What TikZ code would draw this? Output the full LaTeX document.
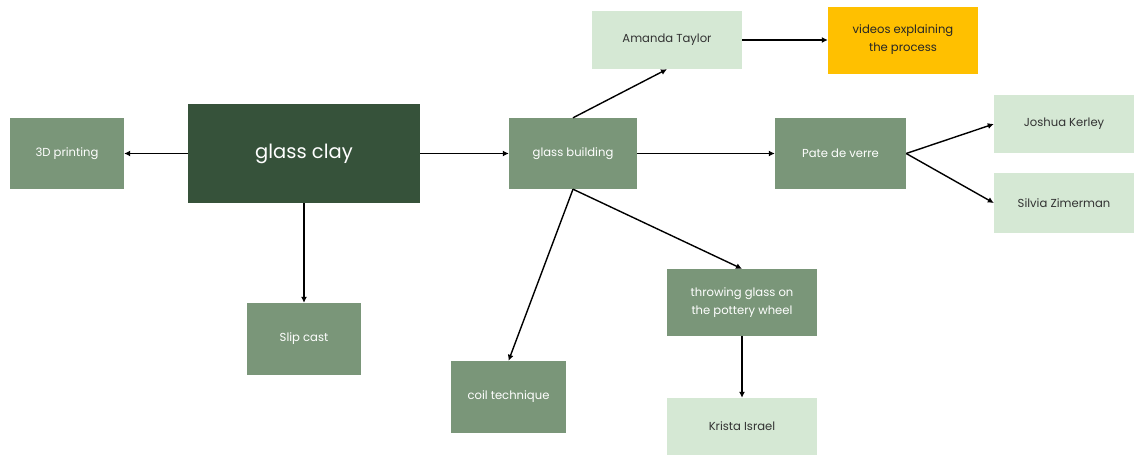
\documentclass[tikz,border=0pt]{standalone}
\usepackage{fontspec}
\setmainfont{Poppins}
\usetikzlibrary{arrows.meta}
\definecolor{darkg}{HTML}{36523A}
\definecolor{midg}{HTML}{7A9679}
\definecolor{lightg}{HTML}{D5E8D4}
\definecolor{yel}{HTML}{FFC000}
\tikzset{
  box/.style={inner sep=0pt, align=center, font=\fontsize{11.6}{18}\selectfont},
  mid/.style={box, fill=midg, text=white},
  dark/.style={box, fill=darkg, text=white, font=\fontsize{19.5}{24}\selectfont},
  light/.style={box, fill=lightg, text=black!80},
  yellow/.style={box, fill=yel, text=black!85},
  arr/.style={-{Latex[length=6pt,width=6pt]}, line width=1.4pt, black}
}
\begin{document}
\begin{tikzpicture}[x=1pt,y=-1pt]
\useasboundingbox (0,0) rectangle (1135,455);
\node[mid, minimum width=114pt, minimum height=71pt] (p3d) at (67,153.5) {3D printing};
\node[dark, minimum width=232pt, minimum height=99pt] (gc) at (304,153.5) {glass clay};
\node[mid, minimum width=128pt, minimum height=71pt] (gb) at (573,153.5) {glass building};
\node[light, minimum width=150pt, minimum height=58pt] (at) at (667,40) {Amanda Taylor};
\node[yellow, minimum width=150pt, minimum height=67pt] (vid) at (903,40) {videos explaining\\the process};
\node[mid, minimum width=131pt, minimum height=71pt] (pdv) at (840.5,153.5) {Pate de verre};
\node[light, minimum width=140pt, minimum height=58pt] (jk) at (1064,124) {Joshua Kerley};
\node[light, minimum width=140pt, minimum height=60pt] (sz) at (1064,203) {Silvia Zimerman};
\node[mid, minimum width=114pt, minimum height=72pt] (sc) at (304,339) {Slip cast};
\node[mid, minimum width=115pt, minimum height=72pt] (coil) at (508.5,397) {coil technique};
\node[mid, minimum width=150pt, minimum height=67pt] (tg) at (742,302.5) {throwing glass on\\the pottery wheel};
\node[light, minimum width=150pt, minimum height=57pt] (ki) at (742,426.5) {Krista Israel};
\draw[arr] (gc.west) -- (p3d.east);
\draw[arr] (gc.east) -- (gb.west);
\draw[arr] (gc.south) -- (sc.north);
\draw[arr] (gb.north) -- (at.south);
\draw[arr] (gb.south) -- (coil.north);
\draw[arr] (gb.south) -- (tg.north);
\draw[arr] (gb.east) -- (pdv.west);
\draw[arr] (at.east) -- (vid.west);
\draw[arr] (pdv.east) -- (jk.west);
\draw[arr] (pdv.east) -- (sz.west);
\draw[arr] (tg.south) -- (ki.north);
\end{tikzpicture}
\end{document}
